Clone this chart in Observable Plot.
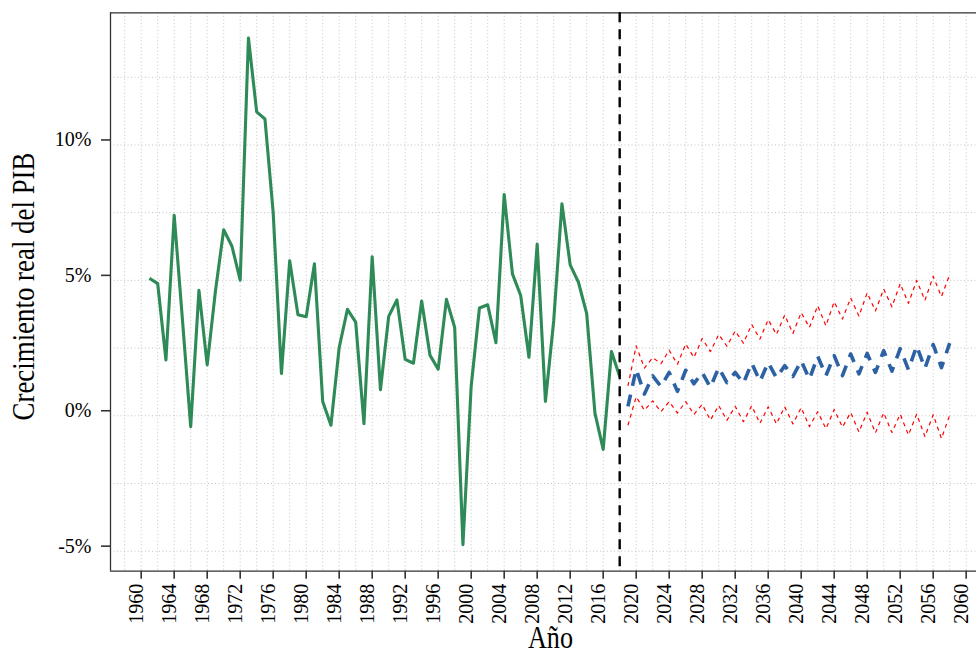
<!DOCTYPE html>
<html>
<head>
<meta charset="utf-8">
<script src="https://cdn.jsdelivr.net/npm/d3@7"></script>
<script src="https://cdn.jsdelivr.net/npm/@observablehq/plot@0.6"></script>
<style>
  html, body { margin: 0; padding: 0; background: #ffffff; }
  #chart { width: 976px; height: 664px; }
</style>
</head>
<body>
<div id="chart"></div>
<script>
// ---- Data ----
const histYears = [1961,1962,1963,1964,1965,1966,1967,1968,1969,1970,
  1971,1972,1973,1974,1975,1976,1977,1978,1979,1980,
  1981,1982,1983,1984,1985,1986,1987,1988,1989,1990,
  1991,1992,1993,1994,1995,1996,1997,1998,1999,2000,
  2001,2002,2003,2004,2005,2006,2007,2008,2009,2010,
  2011,2012,2013,2014,2015,2016,2017,2018];
const histGrowth = [5.08,4.88,2.06,7.40,3.55,-0.40,4.63,1.88,4.60,6.87,
  6.26,5.01,13.95,11.22,10.96,7.50,1.56,5.72,3.73,3.66,
  5.61,0.53,-0.35,2.52,3.93,3.46,-0.29,5.87,0.96,3.67,
  4.28,2.08,1.94,4.24,2.24,1.72,4.30,3.26,-4.76,1.10,
  3.98,4.10,2.70,8.17,5.24,4.44,2.16,6.34,0.53,3.50,
  7.83,5.57,4.93,3.77,0.10,-1.24,2.37,1.45];

const fcYears = [2019,2020,2021,2022,2023,2024,2025,2026,2027,2028,
  2029,2030,2031,2032,2033,2034,2035,2036,2037,2038,
  2039,2040,2041,2042,2043,2044,2045,2046,2047,2048,
  2049,2050,2051,2052,2053,2054,2055,2056,2057,2058];
const fcMean = [0.35,1.72,0.80,1.47,1.08,1.60,0.90,1.68,1.18,1.60,
  1.05,1.78,1.22,1.60,1.20,1.95,1.27,1.97,1.40,1.85,
  1.45,2.03,1.35,2.20,1.48,2.22,1.48,2.28,1.55,2.30,
  1.60,2.40,1.65,2.48,1.70,2.58,1.75,2.63,1.78,2.68];
const fcUpper = [1.10,2.58,1.76,2.15,1.92,2.42,1.90,2.65,2.15,2.85,
  2.37,3.00,2.57,3.13,2.68,3.37,2.83,3.55,3.00,3.72,
  3.04,3.81,3.26,4.06,3.32,4.21,3.57,4.35,3.68,4.54,
  3.87,4.68,4.02,4.88,4.15,5.00,4.26,5.15,4.40,5.21];
const fcLower = [-0.35,0.70,0.20,0.55,0.15,0.52,0.10,0.52,0.05,0.42,
  -0.16,0.38,-0.17,0.35,-0.22,0.37,-0.28,0.33,-0.30,0.33,
  -0.30,0.30,-0.40,0.15,-0.48,0.23,-0.42,0.12,-0.60,0.13,
  -0.63,0.11,-0.62,0.06,-0.71,0.06,-0.77,0.04,-0.84,0.02];

const cutYear = [2018];
const xTicks = [1960,1964,1968,1972,1976,1980,1984,1988,1992,1996,2000,2004,
  2008,2012,2016,2020,2024,2028,2032,2036,2040,2044,2048,2052,2056,2060];
const yTicks = [-5, 0, 5, 10];
const xLabel = "Año";
const yLabel = "Crecimiento real del PIB";

// ---- Tables built from the arrays ----
const hist = histYears.map((year, i) => ({year, value: histGrowth[i]}));
const fc = fcYears.map((year, i) => ({year, mean: fcMean[i], upper: fcUpper[i], lower: fcLower[i]}));

const xDomain = [1956.28, 2061.25];
const yDomain = [-5.74, 14.88];
const gridXVals = d3.range(1958, 2061, 2);
const gridYVals = d3.range(-5, 13, 2.5);
const serif = "'Liberation Serif', 'Times New Roman', serif";

const gridStyle = {stroke: "#c4c4c4", strokeWidth: 1, strokeOpacity: 1, strokeDasharray: "1,2.5"};

const chart = Plot.plot({
  width: 976,
  height: 664,
  marginLeft: 110,
  marginRight: 0,
  marginTop: 12.3,
  marginBottom: 93.3,
  style: {fontFamily: serif, background: "#ffffff", overflow: "visible"},
  x: {domain: xDomain, axis: null},
  y: {domain: yDomain, axis: null},
  marks: [
    Plot.gridX(gridXVals, gridStyle),
    Plot.gridY(gridYVals, gridStyle),
    // panel border (left, top, bottom)
    Plot.ruleX([xDomain[0]], {stroke: "#333333", strokeWidth: 1.3}),
    Plot.ruleY([yDomain[0], yDomain[1]], {stroke: "#333333", strokeWidth: 1.3}),
    // y axis
    Plot.axisY(yTicks, {
      anchor: "left", tickSize: 9, tickPadding: 10, tickFormat: d => `${d}%`,
      fontSize: 20, fontFamily: serif, stroke: "#333333", strokeWidth: 1.6,
      fill: "#000000", dy: -5, label: null
    }),
    // x axis: tick marks
    Plot.axisX(xTicks, {
      anchor: "bottom", tickSize: 8, tickFormat: () => "",
      stroke: "#333333", strokeWidth: 1.6, label: null
    }),
    // x axis: rotated labels
    Plot.axisX(xTicks, {
      anchor: "bottom", tickSize: 0, tickPadding: 12.6, tickRotate: -90,
      tickFormat: d => `${d}`, fontSize: 20, fontFamily: serif, dx: -4.5,
      fill: "#000000", strokeOpacity: 0, label: null
    }),
    // data
    Plot.line(hist, {x: "year", y: "value", stroke: "#2e8b57", strokeWidth: 3.1,
      strokeLinejoin: "round", strokeLinecap: "butt"}),
    Plot.line(fc, {x: "year", y: "upper", stroke: "#ff0000", strokeWidth: 1.2,
      strokeDasharray: "4,4", strokeLinecap: "butt"}),
    Plot.line(fc, {x: "year", y: "lower", stroke: "#ff0000", strokeWidth: 1.2,
      strokeDasharray: "4,4", strokeLinecap: "butt"}),
    Plot.line(fc, {x: "year", y: "mean", stroke: "#2c62a3", strokeWidth: 3.6,
      strokeDasharray: "12,9", strokeLinecap: "butt"}),
    Plot.ruleX(cutYear, {stroke: "#000000", strokeWidth: 2.4, strokeDasharray: "10,7"}),
    // axis titles
    Plot.text([yLabel], {frameAnchor: "left", rotate: -90, textAnchor: "middle",
      lineAnchor: "bottom", dx: -76.7, dy: -5.5, fontSize: 32, fontFamily: serif, fill: "#000000"}),
    Plot.text([xLabel], {frameAnchor: "bottom", textAnchor: "middle",
      lineAnchor: "bottom", dx: 7, dy: 77, fontSize: 32, fontFamily: serif, fill: "#000000"})
  ]
});

document.getElementById("chart").appendChild(chart);

// condensed look of the axis titles
d3.select(chart).selectAll("text").each(function() {
  const t = this.textContent;
  if (t === yLabel) { this.setAttribute("textLength", 268); this.setAttribute("lengthAdjust", "spacingAndGlyphs"); }
  if (t === xLabel) { this.setAttribute("textLength", 45); this.setAttribute("lengthAdjust", "spacingAndGlyphs"); }
});
</script>
</body>
</html>
